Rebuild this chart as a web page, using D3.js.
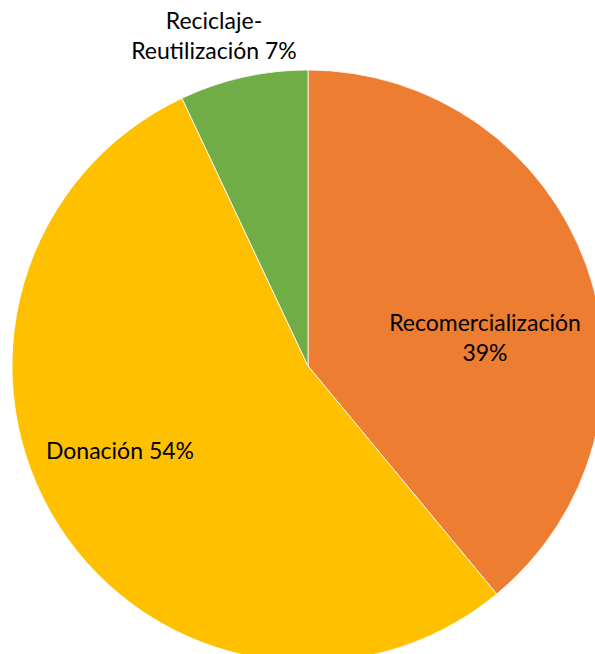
<!DOCTYPE html>
<html>
<head>
<meta charset="utf-8">
<script src="https://cdn.jsdelivr.net/npm/d3@7"></script>
<style>
  html, body { margin: 0; padding: 0; background: #fff; }
  svg { display: block; }
</style>
</head>
<body>
<svg id="chart" width="595" height="654"></svg>
<script>
// Destino de los productos (porcentaje)
const categories = ["Recomercialización", "Donación", "Reciclaje-Reutilización"];
const values = [39, 54, 7];
const colors = ["#ED7D31", "#FFC000", "#70AD47"];
// Label text lines per slice
const labelLines = [
  ["Recomercialización", "39%"],
  ["Donación 54%"],
  ["Reciclaje-", "Reutilización 7%"]
];

const svg = d3.select("#chart");
const cx = 308, cy = 366, radius = 296;

const data = categories.map((c, i) => ({ name: c, value: values[i], color: colors[i], lines: labelLines[i] }));

const pie = d3.pie().sort(null).value(d => d.value);
const arc = d3.arc().innerRadius(0).outerRadius(radius);

const g = svg.append("g").attr("transform", `translate(${cx},${cy})`);

const arcs = pie(data);

g.selectAll("path.slice")
  .data(arcs)
  .join("path")
  .attr("class", "slice")
  .attr("d", arc)
  .attr("fill", d => d.data.color)
  .attr("stroke", "#fff")
  .attr("stroke-width", 0.8);

// Label anchors relative to the pie centre (label layout)
const labelOffsets = [
  { dx: 177, dy: -35 },
  { dx: -188, dy: 93 },
  { dx: -94, dy: -337 }
];
const lineHeight = 30;

const labels = svg.append("g")
  .attr("font-family", "Lato, 'Open Sans', sans-serif")
  .attr("font-size", 23)
  .attr("fill", "#000")
  .attr("text-anchor", "middle");

arcs.forEach((a, i) => {
  const t = labels.append("text")
    .attr("x", cx + labelOffsets[i].dx)
    .attr("y", cy + labelOffsets[i].dy);
  a.data.lines.forEach((line, j) => {
    t.append("tspan")
      .attr("x", cx + labelOffsets[i].dx)
      .attr("dy", j === 0 ? 0 : lineHeight)
      .text(line);
  });
});
</script>
</body>
</html>
